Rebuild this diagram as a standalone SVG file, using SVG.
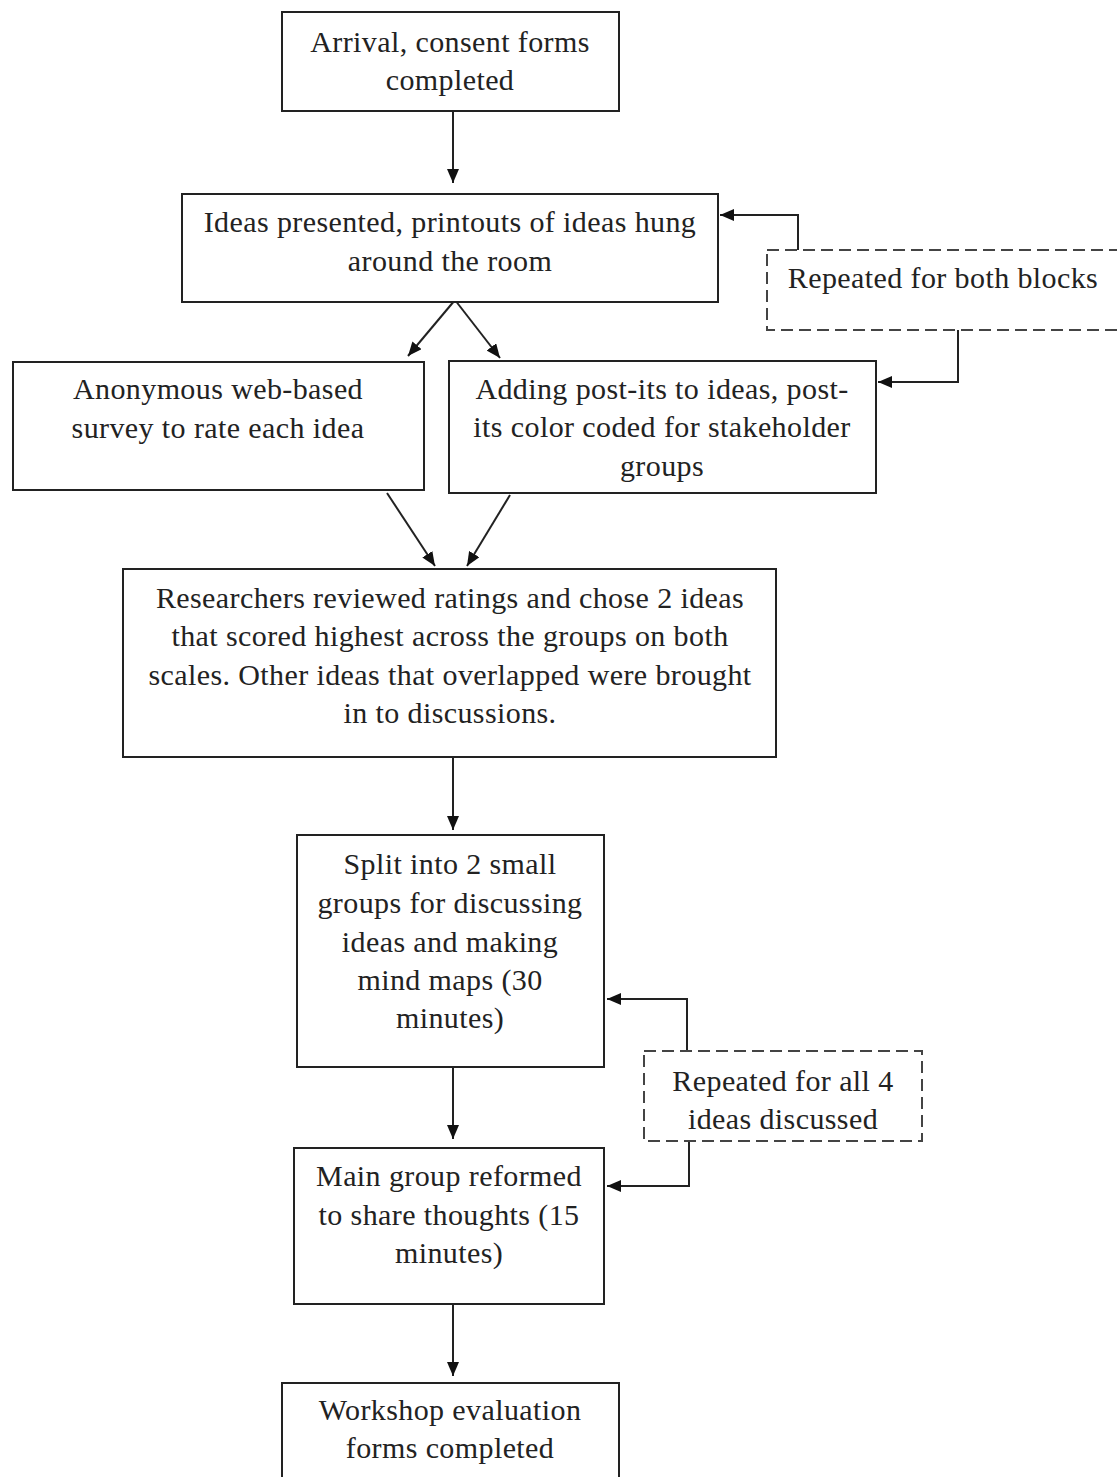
<svg xmlns="http://www.w3.org/2000/svg" width="1117" height="1477" viewBox="0 0 1117 1477">
<style>
.box{fill:#fff;stroke:#222;stroke-width:2}
.dash{fill:#fff;stroke:#444;stroke-width:2;stroke-dasharray:12 6}
.ln{fill:none;stroke:#222;stroke-width:2}
</style>
<defs>
<marker id="ah" viewBox="0 0 14 12" refX="14" refY="6" markerWidth="14" markerHeight="12" markerUnits="userSpaceOnUse" orient="auto"><path d="M0,0 L14,6 L0,12 z" fill="#111"/></marker>
</defs>
<rect width="1117" height="1477" fill="#fff"/>
<g id="connectors">
<path class="ln" d="M453,111 V183" marker-end="url(#ah)"/>
<path class="ln" d="M455,300 L408,356" marker-end="url(#ah)"/>
<path class="ln" d="M455,300 L500,358" marker-end="url(#ah)"/>
<path class="ln" d="M798,250 V215 H720" marker-end="url(#ah)"/>
<path class="ln" d="M958,330 V382 H878" marker-end="url(#ah)"/>
<path class="ln" d="M387,493 L435,566" marker-end="url(#ah)"/>
<path class="ln" d="M510,495 L467,566" marker-end="url(#ah)"/>
<path class="ln" d="M453,757 V830" marker-end="url(#ah)"/>
<path class="ln" d="M687,1051 V999 H607" marker-end="url(#ah)"/>
<path class="ln" d="M689,1141 V1186 H607" marker-end="url(#ah)"/>
<path class="ln" d="M453,1067 V1139" marker-end="url(#ah)"/>
<path class="ln" d="M453,1304 V1376" marker-end="url(#ah)"/>
</g>
<g font-family="Liberation Serif, Times New Roman, serif" font-size="30" letter-spacing="0.4" fill="#222" text-anchor="middle">
<g id="n1"><rect class="box" x="282" y="12" width="337" height="99"/>
<text x="450" y="52">Arrival, consent forms</text><text x="450" y="90">completed</text></g>
<g id="n2"><rect class="box" x="182" y="194" width="536" height="108"/>
<text x="450" y="232">Ideas presented, printouts of ideas hung</text><text x="450" y="271">around the room</text></g>
<g id="n3"><rect class="box" x="13" y="362" width="411" height="128"/>
<text x="218" y="399">Anonymous web-based</text><text x="218" y="438">survey to rate each idea</text></g>
<g id="n4"><rect class="box" x="449" y="361" width="427" height="132"/>
<text x="662" y="399">Adding post-its to ideas, post-</text><text x="662" y="437">its color coded for stakeholder</text><text x="662" y="476">groups</text></g>
<g id="d1"><rect class="dash" x="767" y="250" width="360" height="80"/>
<text x="943" y="288">Repeated for both blocks</text></g>
<g id="n5"><rect class="box" x="123" y="569" width="653" height="188"/>
<text x="450" y="608">Researchers reviewed ratings and chose 2 ideas</text>
<text x="450" y="646">that scored highest across the groups on both</text>
<text x="450" y="685">scales. Other ideas that overlapped were brought</text>
<text x="450" y="723">in to discussions.</text></g>
<g id="n6"><rect class="box" x="297" y="835" width="307" height="232"/>
<text x="450" y="874">Split into 2 small</text><text x="450" y="913">groups for discussing</text><text x="450" y="952">ideas and making</text><text x="450" y="990">mind maps (30</text><text x="450" y="1028">minutes)</text></g>
<g id="d2"><rect class="dash" x="644" y="1051" width="278" height="90"/>
<text x="783" y="1091">Repeated for all 4</text><text x="783" y="1129">ideas discussed</text></g>
<g id="n7"><rect class="box" x="294" y="1148" width="310" height="156"/>
<text x="449" y="1186">Main group reformed</text><text x="449" y="1225">to share thoughts (15</text><text x="449" y="1263">minutes)</text></g>
<g id="n8"><rect class="box" x="282" y="1383" width="337" height="110"/>
<text x="450" y="1420">Workshop evaluation</text><text x="450" y="1458">forms completed</text></g>
</g>
</svg>
